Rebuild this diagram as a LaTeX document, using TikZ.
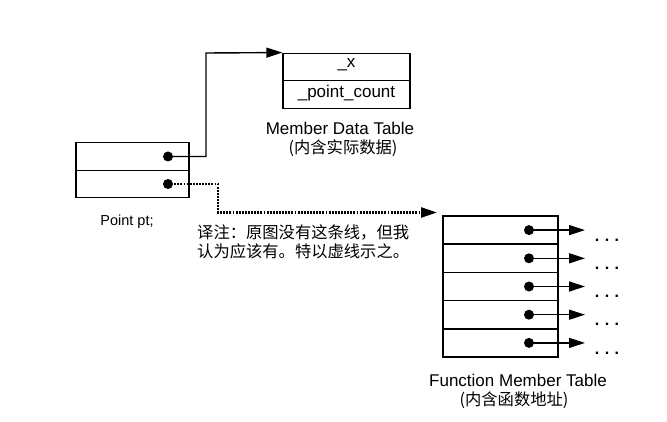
\documentclass[tikz,border=0pt]{standalone}
\usepackage{fontspec}
\setmainfont{Liberation Sans}
\newfontfamily\cjk{Noto Sans CJK SC}
\usetikzlibrary{arrows.meta,calc}
\begin{document}
\begin{tikzpicture}[x=1pt,y=-1pt,
  cell/.style={draw,line width=1.4pt,rectangle,inner sep=0pt,anchor=center},
  ptr/.style={circle,fill=black,inner sep=0pt,minimum size=10pt},
  link/.style={line width=1.4pt,-{Triangle[length=16pt,width=10pt]}},
  dotlink/.style={line width=2.4pt,dash pattern=on 1.9pt off 1.2pt,-{Triangle[length=16pt,width=10pt]}},
  lbl/.style={font=\fontsize{17}{19}\selectfont,inner sep=0pt},
  cn/.style={font=\cjk\fontsize{16.3}{19}\selectfont,inner sep=0pt}]
\useasboundingbox (0,0) rectangle (667,422);
% Point pt object
\node[cell,minimum width=113pt,minimum height=27.5pt] (p1) at (132.5,156.5) {};
\node[cell,minimum width=113pt,minimum height=27.5pt] (p2) at (132.5,184) {};
\node[ptr] (d1) at (168,156.5) {};
\node[ptr] (d2) at (168,184) {};
\node[lbl,font=\fontsize{14.5}{16}\selectfont] (plbl) at (127,222) {Point pt;};
% Member data table
\node[cell,minimum width=127pt,minimum height=27.5pt] (m1) at (346.5,67) {};
\node[cell,minimum width=127pt,minimum height=27.5pt] (m2) at (346.5,94.5) {};
\node[lbl] (mx) at (346.5,65) {\_x};
\node[lbl] (mpc) at (346.5,93) {\_point\_count};
\node[lbl] (mt) at (340,128) {Member Data Table};
\node[cn] (mtc) at (343,148) {(内含实际数据)};
% connectors from Point pt
\coordinate (c1) at (206,53);
\draw[link] (d1.center) -| (c1) -- (m1.north west);
\coordinate (c2) at (218,212.5);
\coordinate (c3) at (437,212.5);
\draw[dotlink] (d2.center) -| (c2) -- (c3);
% translator note
\node[cn,anchor=west] (n1) at (197,232) {译注：原图没有这条线，但我};
\node[cn,anchor=west] (n2) at (197,251) {认为应该有。特以虚线示之。};
% Function member table
\foreach \i in {1,...,5}{
  \pgfmathsetmacro{\yy}{230.1+28.2*(\i-1)}
  \node[cell,minimum width=115pt,minimum height=28.2pt] (f\i) at (500.5,\yy) {};
  \node[ptr] (fd\i) at (529,\yy) {};
  \coordinate (fe\i) at (585,\yy);
  \draw[link] (fd\i.center) -- (fe\i);
  \node[lbl,font=\bfseries\fontsize{16}{18}\selectfont] (fdots\i) at (607,\yy+10) {.\hspace{5.5pt}.\hspace{5.5pt}.};
}
\node[lbl] (ft) at (518,380) {Function Member Table};
\node[cn] (ftc) at (514,400) {(内含函数地址)};
\end{tikzpicture}
\end{document}
